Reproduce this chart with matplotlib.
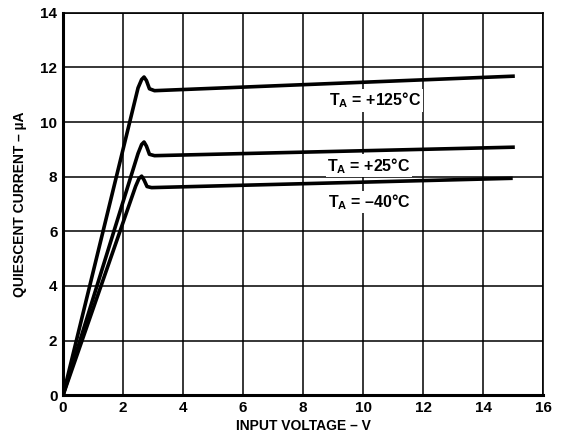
import matplotlib
matplotlib.use("Agg")
import matplotlib.pyplot as plt

plt.rcParams['font.family'] = ['Liberation Sans', 'DejaVu Sans']
plt.rcParams['font.weight'] = 'bold'
plt.rcParams['mathtext.fontset'] = 'custom'
plt.rcParams['mathtext.bf'] = 'Liberation Sans:bold'

# curves (input voltage V, quiescent current uA)
v_125 = [0, 2.50, 2.62, 2.70, 2.78, 2.88, 3.05, 15.0]
i_125 = [0, 11.25, 11.56, 11.65, 11.52, 11.22, 11.15, 11.68]
v_25 = [0, 2.50, 2.62, 2.70, 2.78, 2.88, 3.05, 15.0]
i_25 = [0, 8.85, 9.18, 9.27, 9.12, 8.82, 8.77, 9.08]
v_m40 = [0, 2.42, 2.53, 2.62, 2.70, 2.80, 2.95, 14.93]
i_m40 = [0, 7.65, 7.93, 8.02, 7.88, 7.64, 7.60, 7.94]

labels = ["T$_\\mathbf{A}$ = +125°C", "T$_\\mathbf{A}$ = +25°C", "T$_\\mathbf{A}$ = \u201340°C"]
label_pos = [(10.4, 10.8), (10.2, 8.4), (10.2, 7.07)]

xticks = [0, 2, 4, 6, 8, 10, 12, 14, 16]
yticks = [0, 2, 4, 6, 8, 10, 12, 14]

fig = plt.figure(figsize=(5.68, 4.43), dpi=100)
ax = fig.add_axes([0.111, 0.108, 0.845, 0.863])

for v, i in [(v_125, i_125), (v_25, i_25), (v_m40, i_m40)]:
    ax.plot(v, i, color='black', lw=2.6, solid_joinstyle='round', zorder=3)

for txt, (x, y) in zip(labels, label_pos):
    ax.text(x, y, txt, ha='center', va='center', fontsize=11.5, fontweight='bold',
            bbox=dict(facecolor='white', edgecolor='none', pad=1.0), zorder=4)

ax.set_xlim(0, 16)
ax.set_ylim(0, 14)
ax.set_xticks(xticks)
ax.set_yticks(yticks)
ax.grid(True, color='black', lw=1.1)
ax.tick_params(length=0, labelsize=11, pad=4)
for lab in ax.get_xticklabels() + ax.get_yticklabels():
    lab.set_fontweight('bold')
for s in ax.spines.values():
    s.set_linewidth(1.2)
ax.spines['bottom'].set_linewidth(2.2)
ax.spines['left'].set_linewidth(2.2)

ax.set_xlabel("INPUT VOLTAGE \u2013 V", fontsize=10, fontweight='bold', labelpad=3)
ax.set_ylabel("QUIESCENT CURRENT \u2013 \u00b5A", fontsize=10, fontweight='bold', labelpad=10)

fig.savefig("out.png", dpi=100)
